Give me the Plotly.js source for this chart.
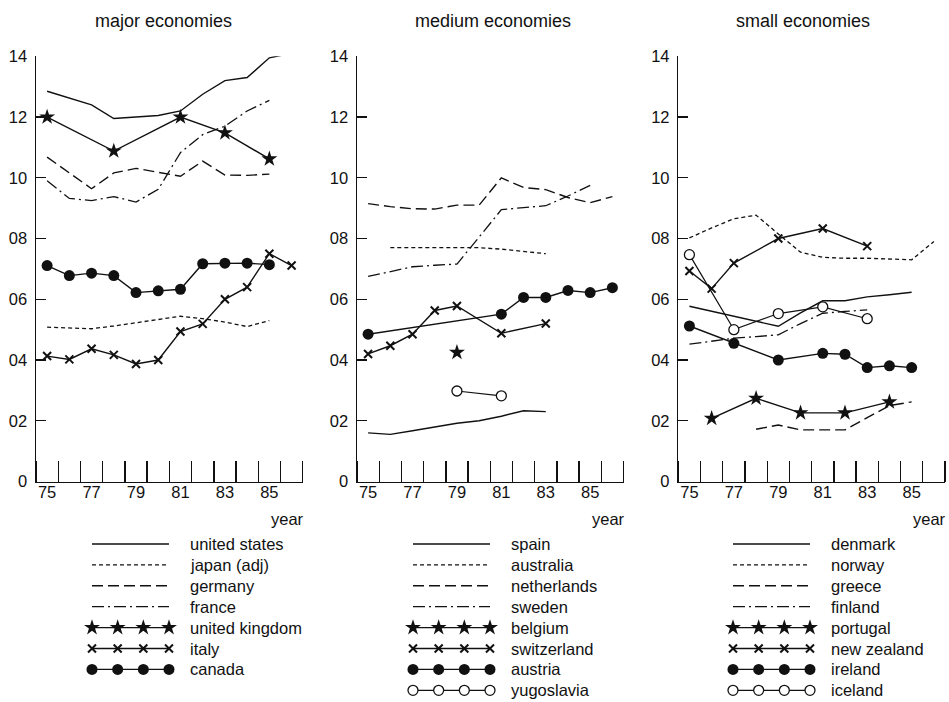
<!DOCTYPE html>
<html>
<head>
<meta charset="utf-8">
<script src="https://cdn.plot.ly/plotly-3.0.1.min.js"></script>
<style>html,body{margin:0;padding:0;background:#fff;}#chart{width:949px;height:702px;}</style>
</head>
<body>
<div id="chart"></div>
<script>
// ---------- data ----------
const panelTitles = ['major economies', 'medium economies', 'small economies'];
const xTickVals = [75, 77, 79, 81, 83, 85];
const xTickText = ['75', '77', '79', '81', '83', '85'];
const yTickVals = [0, 2, 4, 6, 8, 10, 12, 14];
const yTickText = ['0', '02', '04', '06', '08', '10', '12', '14'];

// major economies
const unitedStatesX = [75,76,77,78,79,80,81,82,83,84,85,86];
const unitedStatesY = [12.85,12.62,12.4,11.95,12.0,12.05,12.2,12.75,13.2,13.3,13.95,14.1];
const japanX = [75,76,77,78,79,80,81,82,83,84,85];
const japanY = [5.08,5.05,5.03,5.12,5.22,5.32,5.44,5.36,5.25,5.1,5.3];
const germanyX = [75,76,77,78,79,80,81,82,83,84,85];
const germanyY = [10.68,10.15,9.64,10.16,10.31,10.18,10.05,10.55,10.09,10.08,10.12];
const franceX = [75,76,77,78,79,80,81,82,83,84,85];
const franceY = [9.9,9.32,9.25,9.38,9.2,9.62,10.83,11.42,11.7,12.2,12.55];
const unitedKingdomX = [75,78,81,83,85];
const unitedKingdomY = [12.0,10.88,12.0,11.48,10.62];
const italyX = [75,76,77,78,79,80,81,82,83,84,85,86];
const italyY = [4.13,4.02,4.37,4.17,3.87,4.0,4.94,5.19,6.0,6.4,7.5,7.11];
const canadaX = [75,76,77,78,79,80,81,82,83,84,85];
const canadaY = [7.11,6.78,6.86,6.78,6.22,6.28,6.33,7.17,7.19,7.19,7.14];

// medium economies
const spainX = [75,76,77,78,79,80,81,82,83];
const spainY = [1.6,1.55,1.67,1.8,1.92,2.0,2.15,2.33,2.3];
const australiaX = [76,77,78,79,80,81,82,83];
const australiaY = [7.7,7.7,7.71,7.72,7.7,7.65,7.58,7.5];
const netherlandsX = [75,76,77,78,79,80,81,82,83,84,85,86];
const netherlandsY = [9.15,9.05,8.98,8.97,9.1,9.1,10.0,9.68,9.61,9.35,9.18,9.38];
const swedenX = [75,76,77,78,79,80,81,82,83,84,85];
const swedenY = [6.75,6.92,7.07,7.12,7.16,8.05,8.95,9.02,9.08,9.4,9.75];
const belgiumX = [79];
const belgiumY = [4.25];
const switzerlandX = [75,76,77,78,79,81,83];
const switzerlandY = [4.2,4.47,4.85,5.63,5.78,4.88,5.2];
const austriaX = [75,81,82,83,84,85,86];
const austriaY = [4.85,5.51,6.06,6.06,6.29,6.22,6.38];
const yugoslaviaX = [79,81];
const yugoslaviaY = [2.98,2.82];

// small economies
const denmarkX = [75,76,77,78,79,80,81,82,83,84,85];
const denmarkY = [5.77,5.6,5.45,5.28,5.11,5.55,5.95,5.95,6.08,6.15,6.23];
const norwayX = [75,76,77,78,79,80,81,82,83,84,85,86];
const norwayY = [8.02,8.35,8.65,8.77,8.15,7.55,7.38,7.35,7.35,7.32,7.3,7.9];
const greeceX = [78,79,80,81,82,83,84,85];
const greeceY = [1.72,1.86,1.7,1.7,1.7,2.1,2.5,2.62];
const finlandX = [75,76,77,78,79,80,81,82,83];
const finlandY = [4.52,4.62,4.72,4.77,4.83,5.2,5.54,5.6,5.65];
const portugalX = [76,78,80,82,84];
const portugalY = [2.08,2.74,2.26,2.26,2.62];
const newZealandX = [75,76,77,79,81,83];
const newZealandY = [6.93,6.35,7.19,8.0,8.33,7.75];
const irelandX = [75,77,79,81,82,83,84,85];
const irelandY = [5.12,4.55,4.0,4.22,4.19,3.75,3.81,3.75];
const icelandX = [75,77,79,81,83];
const icelandY = [7.47,5.0,5.53,5.75,5.36];

// ---------- styles ----------
const INK = '#111';
const FONT = 'Liberation Sans, Arial, Helvetica, sans-serif';
const styles = {
  solid:   {mode: 'lines', line: {color: INK, width: 1.4}},
  short:   {mode: 'lines', line: {color: INK, width: 1.3, dash: '4px,3px'}},
  long:    {mode: 'lines', line: {color: INK, width: 1.4, dash: '11px,5px'}},
  dashdot: {mode: 'lines', line: {color: INK, width: 1.3, dash: '12px,4px,2px,4px'}},
  star:    {mode: 'lines+markers', line: {color: INK, width: 1.4}, marker: {symbol: 'star', size: 12, color: INK}},
  cross:   {mode: 'lines+markers', line: {color: INK, width: 1.4}, marker: {symbol: 'x-thin-open', size: 8, color: INK, line: {color: INK, width: 2}}},
  dot:     {mode: 'lines+markers', line: {color: INK, width: 1.4}, marker: {symbol: 'circle', size: 11, color: INK}},
  ring:    {mode: 'lines+markers', line: {color: INK, width: 1.2}, marker: {symbol: 'circle', size: 10, color: '#fff', line: {color: INK, width: 1.3}}}
};

const panels = [
  [['united states', unitedStatesX, unitedStatesY, 'solid'],
   ['japan (adj)', japanX, japanY, 'short'],
   ['germany', germanyX, germanyY, 'long'],
   ['france', franceX, franceY, 'dashdot'],
   ['united kingdom', unitedKingdomX, unitedKingdomY, 'star'],
   ['italy', italyX, italyY, 'cross'],
   ['canada', canadaX, canadaY, 'dot']],
  [['spain', spainX, spainY, 'solid'],
   ['australia', australiaX, australiaY, 'short'],
   ['netherlands', netherlandsX, netherlandsY, 'long'],
   ['sweden', swedenX, swedenY, 'dashdot'],
   ['belgium', belgiumX, belgiumY, 'star'],
   ['switzerland', switzerlandX, switzerlandY, 'cross'],
   ['austria', austriaX, austriaY, 'dot'],
   ['yugoslavia', yugoslaviaX, yugoslaviaY, 'ring']],
  [['denmark', denmarkX, denmarkY, 'solid'],
   ['norway', norwayX, norwayY, 'short'],
   ['greece', greeceX, greeceY, 'long'],
   ['finland', finlandX, finlandY, 'dashdot'],
   ['portugal', portugalX, portugalY, 'star'],
   ['new zealand', newZealandX, newZealandY, 'cross'],
   ['ireland', irelandX, irelandY, 'dot'],
   ['iceland', icelandX, icelandY, 'ring']]
];

// ---------- layout geometry (pixels) ----------
const W = 949, H = 702;
const xDomainsPx = [[36, 302.7], [357, 623.5], [678.3, 945]];
const plotTopPx = 56.3, plotBottomPx = 481.5;
const legendSamplePx = [[92, 169], [413, 490], [733, 810]];
const legendRow0Px = 544, legendRowStep = 20.9;
const legendSampleSteps = 4; // the key shows each style with four marker stops

const clone = o => JSON.parse(JSON.stringify(o));
const traces = [];
const layout = {
  width: W, height: H,
  margin: {l: 0, r: 0, t: 0, b: 0, autoexpand: false},
  paper_bgcolor: '#fff', plot_bgcolor: 'rgba(0,0,0,0)',
  font: {family: FONT, color: INK, size: 16},
  annotations: [],
  showlegend: false
};

const legendTopPx = legendRow0Px - legendRowStep / 2;
const legendRowsFit = (H - legendTopPx) / legendRowStep;

panels.forEach((series, p) => {
  const ax = p === 0 ? '' : String(p + 1);
  const lax = String(p + 4);
  const d = xDomainsPx[p];
  const sampleX = Array.from({length: legendSampleSteps}, (_, k) => k);

  series.forEach(([name, xs, ys, st], i) => {
    traces.push(Object.assign({
      type: 'scatter', name: name, x: xs, y: ys,
      xaxis: 'x' + ax, yaxis: 'y' + ax, hoverinfo: 'skip', cliponaxis: false
    }, clone(styles[st])));
    // key entry
    traces.push(Object.assign({
      type: 'scatter', name: name + ' (key)', x: sampleX, y: sampleX.map(() => i),
      xaxis: 'x' + lax, yaxis: 'y' + lax, hoverinfo: 'skip', cliponaxis: false
    }, clone(styles[st])));
    layout.annotations.push({
      text: name, xref: 'x' + lax + ' domain', yref: 'y' + lax,
      x: 1, y: i, xanchor: 'left', yanchor: 'middle', xshift: 19, showarrow: false,
      font: {family: FONT, size: 16.5, color: INK}
    });
  });

  layout['xaxis' + ax] = {
    domain: [d[0] / W, d[1] / W], anchor: 'y' + ax,
    range: [74.5, 86.5], showgrid: false, zeroline: false,
    showline: true, linecolor: INK, linewidth: 1.5,
    tickmode: 'array', tickvals: xTickVals, ticktext: xTickText, ticks: '',
    ticklabelstandoff: -5,
    tickfont: {family: FONT, size: 16.5, color: INK},
    minor: {tickmode: 'linear', tick0: 75.5, dtick: 1, ticks: 'inside', ticklen: 21, tickwidth: 1.4, tickcolor: INK, showgrid: false}
  };
  layout['yaxis' + ax] = {
    domain: [(H - plotBottomPx) / H, (H - plotTopPx) / H], anchor: 'x' + ax,
    range: [0, 14], showgrid: false, zeroline: false,
    showline: true, linecolor: INK, linewidth: 1.5,
    tickmode: 'array', tickvals: yTickVals, ticktext: yTickText,
    ticks: 'inside', ticklen: 10, tickwidth: 1.4, tickcolor: INK,
    ticklabelstandoff: 4,
    tickfont: {family: FONT, size: 16.5, color: INK}
  };
  // invisible axes that hold the key
  const lp = legendSamplePx[p];
  layout['xaxis' + lax] = {
    domain: [lp[0] / W, lp[1] / W], anchor: 'y' + lax,
    range: [0, legendSampleSteps - 1], visible: false, fixedrange: true
  };
  layout['yaxis' + lax] = {
    domain: [0, (H - legendTopPx) / H], anchor: 'x' + lax,
    range: [legendRowsFit - 0.5, -0.5], visible: false, fixedrange: true
  };

  layout.annotations.push({
    text: panelTitles[p], xref: 'paper', yref: 'paper',
    x: [163.5, 493.3, 802.5][p] / W, y: (H - 21) / H,
    xanchor: 'center', yanchor: 'middle', showarrow: false,
    font: {family: FONT, size: 18, color: INK}
  });
  layout.annotations.push({
    text: 'year', xref: 'x' + ax + ' domain', yref: 'paper',
    x: 1, y: (H - 519) / H, xanchor: 'right', yanchor: 'middle', xshift: 3,
    showarrow: false, font: {family: FONT, size: 16.5, color: INK}
  });
});

Plotly.newPlot('chart', traces, layout, {staticPlot: true, displayModeBar: false});
</script>
</body>
</html>
